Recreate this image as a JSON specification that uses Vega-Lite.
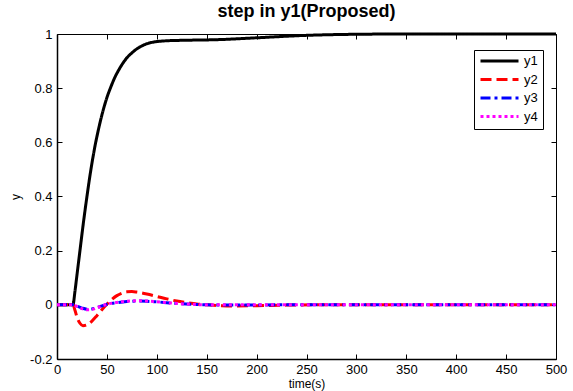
{
  "$schema": "https://vega.github.io/schema/vega-lite/v6.json",
  "width": 499,
  "height": 325,
  "autosize": {"type": "none"},
  "padding": {"left": 57, "top": 34, "right": 17, "bottom": 32},
  "background": "white",
  "title": {"text": "step in y1(Proposed)", "font": "Liberation Sans", "fontSize": 18, "fontWeight": "bold", "color": "black", "offset": 7},
  "config": {
    "view": {"stroke": null},
    "axis": {"grid": false, "domainColor": "black", "tickColor": "black", "labelColor": "black", "titleColor": "black", "labelFont": "Liberation Sans", "titleFont": "Liberation Sans", "labelFontSize": 13, "titleFontSize": 12, "titleFontWeight": "normal"},
    "legend": {"labelFont": "Liberation Sans"}
  },
  "data": {"values": [
    {"s": "y1", "t": 0, "y": 0}, {"s": "y1", "t": 16, "y": 0}, {"s": "y1", "t": 18, "y": 0.05}, {"s": "y1", "t": 20, "y": 0.11}, {"s": "y1", "t": 23, "y": 0.2}, {"s": "y1", "t": 26, "y": 0.29}, {"s": "y1", "t": 30, "y": 0.4}, {"s": "y1", "t": 34, "y": 0.5}, {"s": "y1", "t": 38, "y": 0.585}, {"s": "y1", "t": 42, "y": 0.655}, {"s": "y1", "t": 46, "y": 0.715}, {"s": "y1", "t": 50, "y": 0.765}, {"s": "y1", "t": 54, "y": 0.805}, {"s": "y1", "t": 58, "y": 0.84}, {"s": "y1", "t": 62, "y": 0.868}, {"s": "y1", "t": 66, "y": 0.892}, {"s": "y1", "t": 70, "y": 0.912}, {"s": "y1", "t": 75, "y": 0.93}, {"s": "y1", "t": 80, "y": 0.945}, {"s": "y1", "t": 85, "y": 0.956}, {"s": "y1", "t": 90, "y": 0.964}, {"s": "y1", "t": 95, "y": 0.969}, {"s": "y1", "t": 100, "y": 0.972}, {"s": "y1", "t": 110, "y": 0.975}, {"s": "y1", "t": 130, "y": 0.977}, {"s": "y1", "t": 160, "y": 0.979}, {"s": "y1", "t": 200, "y": 0.986}, {"s": "y1", "t": 250, "y": 0.995}, {"s": "y1", "t": 300, "y": 0.999}, {"s": "y1", "t": 350, "y": 1.0}, {"s": "y1", "t": 500, "y": 1.0},
    {"s": "y2", "t": 0, "y": 0}, {"s": "y2", "t": 16, "y": 0}, {"s": "y2", "t": 18, "y": -0.02}, {"s": "y2", "t": 20, "y": -0.045}, {"s": "y2", "t": 23, "y": -0.068}, {"s": "y2", "t": 26, "y": -0.077}, {"s": "y2", "t": 30, "y": -0.074}, {"s": "y2", "t": 35, "y": -0.06}, {"s": "y2", "t": 40, "y": -0.04}, {"s": "y2", "t": 45, "y": -0.018}, {"s": "y2", "t": 50, "y": 0.002}, {"s": "y2", "t": 55, "y": 0.02}, {"s": "y2", "t": 60, "y": 0.034}, {"s": "y2", "t": 65, "y": 0.043}, {"s": "y2", "t": 70, "y": 0.048}, {"s": "y2", "t": 75, "y": 0.049}, {"s": "y2", "t": 80, "y": 0.047}, {"s": "y2", "t": 90, "y": 0.04}, {"s": "y2", "t": 100, "y": 0.031}, {"s": "y2", "t": 110, "y": 0.022}, {"s": "y2", "t": 120, "y": 0.014}, {"s": "y2", "t": 130, "y": 0.008}, {"s": "y2", "t": 140, "y": 0.003}, {"s": "y2", "t": 150, "y": 0.0}, {"s": "y2", "t": 165, "y": -0.003}, {"s": "y2", "t": 180, "y": -0.004}, {"s": "y2", "t": 200, "y": -0.003}, {"s": "y2", "t": 230, "y": -0.001}, {"s": "y2", "t": 260, "y": 0}, {"s": "y2", "t": 500, "y": 0},
    {"s": "y3", "t": 0, "y": 0}, {"s": "y3", "t": 16, "y": 0}, {"s": "y3", "t": 20, "y": -0.005}, {"s": "y3", "t": 25, "y": -0.012}, {"s": "y3", "t": 30, "y": -0.016}, {"s": "y3", "t": 35, "y": -0.015}, {"s": "y3", "t": 40, "y": -0.01}, {"s": "y3", "t": 45, "y": -0.004}, {"s": "y3", "t": 50, "y": 0.002}, {"s": "y3", "t": 60, "y": 0.008}, {"s": "y3", "t": 70, "y": 0.012}, {"s": "y3", "t": 80, "y": 0.014}, {"s": "y3", "t": 90, "y": 0.013}, {"s": "y3", "t": 100, "y": 0.011}, {"s": "y3", "t": 110, "y": 0.008}, {"s": "y3", "t": 120, "y": 0.005}, {"s": "y3", "t": 135, "y": 0.002}, {"s": "y3", "t": 150, "y": 0}, {"s": "y3", "t": 180, "y": -0.001}, {"s": "y3", "t": 220, "y": 0}, {"s": "y3", "t": 500, "y": 0},
    {"s": "y4", "t": 0, "y": 0}, {"s": "y4", "t": 16, "y": 0}, {"s": "y4", "t": 20, "y": -0.006}, {"s": "y4", "t": 25, "y": -0.014}, {"s": "y4", "t": 30, "y": -0.018}, {"s": "y4", "t": 35, "y": -0.017}, {"s": "y4", "t": 40, "y": -0.011}, {"s": "y4", "t": 45, "y": -0.004}, {"s": "y4", "t": 50, "y": 0.002}, {"s": "y4", "t": 60, "y": 0.009}, {"s": "y4", "t": 70, "y": 0.013}, {"s": "y4", "t": 80, "y": 0.015}, {"s": "y4", "t": 90, "y": 0.014}, {"s": "y4", "t": 100, "y": 0.011}, {"s": "y4", "t": 110, "y": 0.008}, {"s": "y4", "t": 120, "y": 0.005}, {"s": "y4", "t": 135, "y": 0.002}, {"s": "y4", "t": 150, "y": 0}, {"s": "y4", "t": 500, "y": 0}
  ]},
  "layer": [
    {
      "mark": {"type": "line", "strokeWidth": 3, "interpolate": "monotone"},
      "encoding": {
        "x": {"field": "t", "type": "quantitative", "scale": {"domain": [0, 500], "nice": false, "zero": false},
              "axis": {"orient": "bottom", "values": [0, 50, 100, 150, 200, 250, 300, 350, 400, 450, 500], "tickSize": -5, "labelPadding": 9, "domainWidth": 1.5, "title": "time(s)", "titlePadding": 2, "labelFlush": false}},
        "y": {"field": "y", "type": "quantitative", "scale": {"domain": [-0.2, 1], "nice": false, "zero": false},
              "axis": {"orient": "left", "values": [-0.2, 0, 0.2, 0.4, 0.6, 0.8, 1], "tickSize": -5, "labelPadding": 10, "domainWidth": 1.5, "title": "y", "titlePadding": 7, "labelExpr": "toString(datum.value)"}},
        "color": {"field": "s", "type": "nominal", "scale": {"domain": ["y1", "y2", "y3", "y4"], "range": ["#000000", "#ff0000", "#0000ff", "#ff00ff"]},
                  "legend": {"title": null, "orient": "none", "legendX": 417, "legendY": 16, "strokeColor": "black", "fillColor": "white", "padding": 5, "symbolType": "stroke", "symbolStrokeWidth": 3, "symbolSize": 1444, "labelFontSize": 13, "labelOffset": 4, "clipHeight": 12, "rowPadding": 5.5}},
        "strokeDash": {"field": "s", "type": "nominal", "scale": {"domain": ["y1", "y2", "y3", "y4"], "range": [[1, 0], [11, 5], [10, 4, 3, 4], [3, 3]]},
                  "legend": {"title": null}}
      }
    },
    {
      "mark": {"type": "point", "opacity": 0},
      "encoding": {
        "x": {"field": "t", "type": "quantitative", "axis": {"orient": "top", "values": [0, 50, 100, 150, 200, 250, 300, 350, 400, 450, 500], "tickSize": -5, "labels": false, "title": null, "domainWidth": 1}},
        "y": {"field": "y", "type": "quantitative", "axis": {"orient": "right", "values": [-0.2, 0, 0.2, 0.4, 0.6, 0.8, 1], "tickSize": -5, "labels": false, "title": null, "domainWidth": 1}}
      }
    }
  ],
  "resolve": {"axis": {"x": "independent", "y": "independent"}}
}
